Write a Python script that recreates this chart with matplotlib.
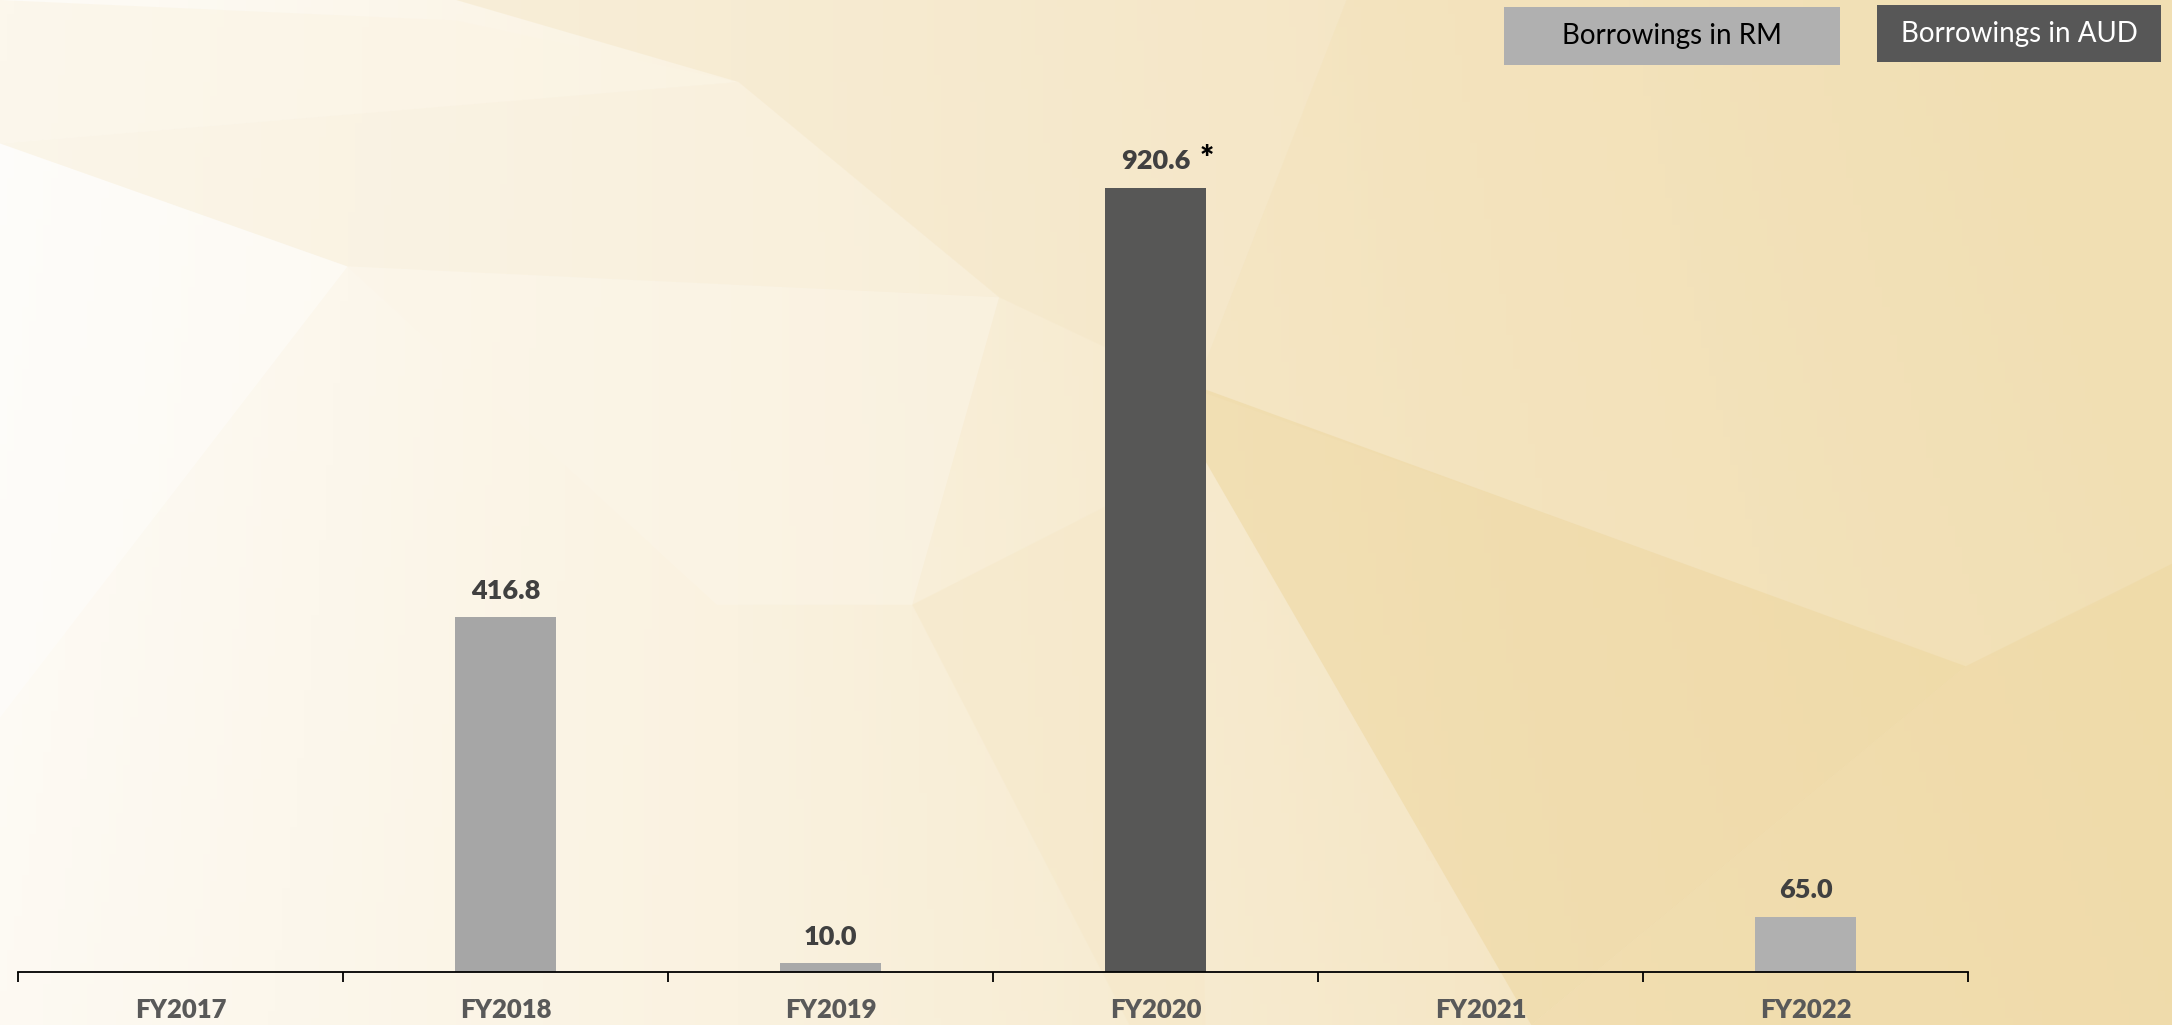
import numpy as np
import matplotlib.pyplot as plt
from matplotlib.patches import Polygon, Rectangle
from matplotlib.colors import LinearSegmentedColormap

# data
years = ['FY2017', 'FY2018', 'FY2019', 'FY2020', 'FY2021', 'FY2022']
borrow_rm = [None, 416.8, 10.0, None, None, 65.0]
borrow_aud = [None, None, None, 920.6, None, None]
rm_colors = ['#a6a6a6', '#a6a6a6', '#a9a9a9', '#a8a8a8', '#b0b0b0', '#b0b0b0']
aud_color = '#575756'

plt.rcParams['font.family'] = ['Lato', 'DejaVu Sans']

fig = plt.figure(figsize=(21.72, 10.25), dpi=100)

# background: cream-to-gold low poly look
bg = fig.add_axes([0, 0, 1, 1], zorder=0)
bg.set_xlim(0, 1)
bg.set_ylim(0, 1)
bg.axis('off')
xx, yy = np.meshgrid(np.linspace(0, 1, 300), np.linspace(0, 1, 150))
t = np.clip(0.75 * xx + 0.35 * (1 - yy) * xx + 0.1 * yy * xx + 0.08 * yy, 0, 1)
cmap = LinearSegmentedColormap.from_list('bgc', ['#fefcf8', '#faf2e0', '#f4e4c0', '#f0dcaa'])
bg.imshow(t, extent=[0, 1, 0, 1], origin='upper', cmap=cmap, aspect='auto', vmin=0, vmax=1.1)

facets = [
    ([(0, 1), (0.21, 0.98), (0.34, 0.92), (0, 0.86)], '#fbf4e4', 0.6),
    ([(0, 0.86), (0.16, 0.74), (0.46, 0.71), (0.34, 0.92)], '#f9f0dc', 0.5),
    ([(0.34, 0.92), (0.46, 0.71), (0.55, 0.62), (0.62, 1.0), (0.21, 1.0)], '#f5e7c8', 0.5),
    ([(0.55, 0.62), (0.91, 0.35), (1.0, 0.45), (1.0, 1.0), (0.62, 1.0)], '#f3e2ba', 0.45),
    ([(0.555, 0.62), (0.905, 0.35), (0.705, 0.0), (0.555, 0.55)], '#eed7a0', 0.55),
    ([(0.905, 0.35), (1.0, 0.45), (1.0, 0.0), (0.705, 0.0)], '#efd9a5', 0.6),
    ([(0.42, 0.41), (0.55, 0.55), (0.555, 0.0), (0.52, 0.0)], '#f6e8c8', 0.5),
    ([(0.0, 0.86), (0.16, 0.74), (0.0, 0.3)], '#ffffff', 0.4),
    ([(0.16, 0.74), (0.33, 0.41), (0.42, 0.41), (0.46, 0.71)], '#fbf5e8', 0.5),
]
for pts, col, a in facets:
    bg.add_patch(Polygon(pts, closed=True, facecolor=col, edgecolor='none', alpha=a))

# main axes
ax = fig.add_axes([0.0083, 0.0517, 0.8978, 0.9483], zorder=1)
ax.patch.set_alpha(0)
x = np.arange(len(years))
width = 0.31

for i in range(len(years)):
    if borrow_rm[i] is not None:
        ax.bar(x[i], borrow_rm[i], width=width, color=rm_colors[i])
        ax.annotate('{:.1f}'.format(borrow_rm[i]), (x[i], borrow_rm[i]), xytext=(0, 19),
                    textcoords='offset points', ha='center', va='center',
                    fontsize=19.5, fontweight='heavy', color='#404040')
    if borrow_aud[i] is not None:
        ax.bar(x[i], borrow_aud[i], width=width, color=aud_color)
        ax.annotate('{:.1f}'.format(borrow_aud[i]), (x[i], borrow_aud[i]), xytext=(0, 19),
                    textcoords='offset points', ha='center', va='center',
                    fontsize=19.5, fontweight='heavy', color='#404040')
        ax.annotate('*', (x[i], borrow_aud[i]), xytext=(37, 20),
                    textcoords='offset points', ha='center', va='center',
                    fontsize=24, fontweight='heavy', color='black')

ax.set_xlim(-0.5, len(years) - 0.5)
ax.set_ylim(0, 1141)
for s in ['top', 'right', 'left']:
    ax.spines[s].set_visible(False)
ax.spines['bottom'].set_linewidth(1.3)
ax.set_yticks([])
ax.set_xticks(x)
ax.set_xticklabels(years, fontsize=18.5, fontweight='heavy', color='#595959')
ax.tick_params(axis='x', which='major', length=0, pad=19)
ax.set_xticks(np.arange(-0.5, len(years)), minor=True)
ax.tick_params(axis='x', which='minor', length=7, width=1.3, direction='out')

# legend boxes
fig.patches.append(Rectangle((1504 / 2172, 1 - 65 / 1025), 336 / 2172, 58 / 1025,
                             transform=fig.transFigure, facecolor='#b0b0b0', edgecolor='none', zorder=2))
fig.text((1504 + 336 / 2) / 2172, 1 - 36 / 1025, 'Borrowings in RM', ha='center', va='center',
         fontsize=20, color='black', zorder=3)
fig.patches.append(Rectangle((1877 / 2172, 1 - 62 / 1025), 284 / 2172, 57 / 1025,
                             transform=fig.transFigure, facecolor='#575757', edgecolor='none', zorder=2))
fig.text((1877 + 284 / 2) / 2172, 1 - 34 / 1025, 'Borrowings in AUD', ha='center', va='center',
         fontsize=20, color='white', zorder=3)

plt.savefig('out.png', dpi=100)
